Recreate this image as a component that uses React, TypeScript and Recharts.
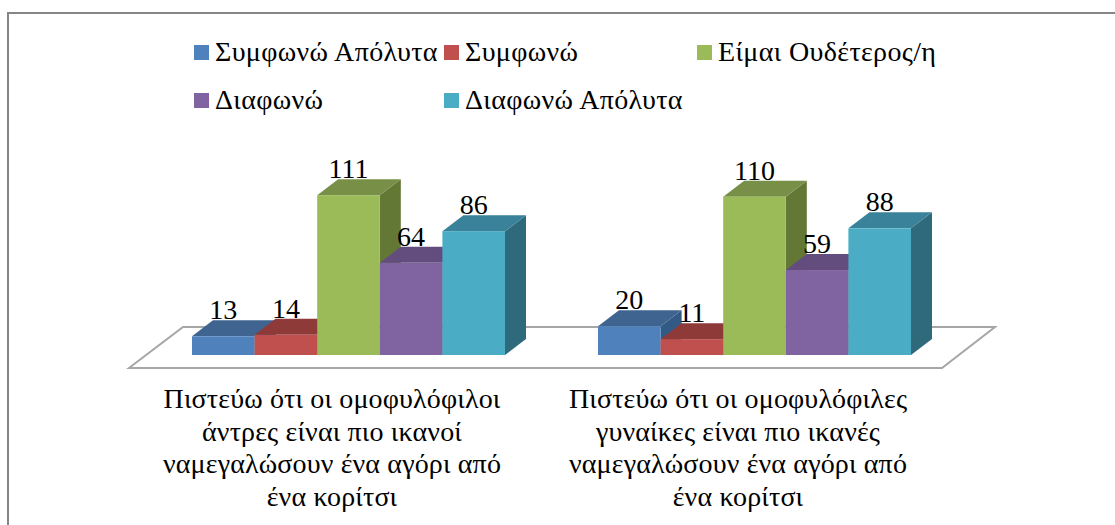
import { BarChart, Bar, XAxis, YAxis, LabelList, Legend, ReferenceArea } from "recharts";

const CATEGORIES = [
  "Πιστεύω ότι οι ομοφυλόφιλοι|άντρες είναι πιο ικανοί|ναμεγαλώσουν ένα αγόρι από|ένα κορίτσι",
  "Πιστεύω ότι οι ομοφυλόφιλες|γυναίκες είναι πιο ικανές|ναμεγαλώσουν ένα αγόρι από|ένα κορίτσι",
];
const SERIES_NAMES = ["Συμφωνώ Απόλυτα", "Συμφωνώ", "Είμαι Ουδέτερος/η", "Διαφωνώ", "Διαφωνώ Απόλυτα"];
const STRONGLY_AGREE = [13, 20];
const AGREE = [14, 11];
const NEUTRAL = [111, 110];
const DISAGREE = [64, 59];
const STRONGLY_DISAGREE = [86, 88];
const SERIES_VALUES = [STRONGLY_AGREE, AGREE, NEUTRAL, DISAGREE, STRONGLY_DISAGREE];
const FRONT = ["#4f81bd", "#c0504d", "#9bbb59", "#8064a2", "#4bacc6"];
const TOP = ["#3f6490", "#8e3a38", "#788f47", "#634d7e", "#39829a"];
const SIDE = ["#335a85", "#7d3331", "#647836", "#54406c", "#2f6a7c"];

const data = CATEGORIES.map((name, i) => {
  const row: Record<string, string | number> = { name };
  SERIES_NAMES.forEach((s, j) => {
    row[s] = SERIES_VALUES[j][i];
  });
  return row;
});

const FONT = "'Liberation Serif', serif";
const DX = 21;
const DY = 16;

const Bar3D = (props: any) => {
  const { x, y, width, height, colorIndex } = props;
  const r = x + width;
  const b = y + height;
  return (
    <g>
      <polygon points={`${r},${y} ${r + DX},${y - DY} ${r + DX},${b - DY} ${r},${b}`} fill={SIDE[colorIndex]} />
      <polygon points={`${x},${y} ${x + DX},${y - DY} ${r + DX},${y - DY} ${r},${y}`} fill={TOP[colorIndex]} />
      <rect x={x} y={y} width={width} height={height} fill={FRONT[colorIndex]} />
    </g>
  );
};

const Floor = (props: any) => {
  const { x, y, width, height } = props;
  const base = y + height;
  const pts = `${x - 16},${base + 13} ${x + 38},${base - 28} ${x + width + 38},${base - 28} ${x + width - 15},${base + 13}`;
  return <polygon points={pts} fill="#fff" stroke="#a6a6a6" strokeWidth={2} />;
};

// labels sit left of the band centre, the 3D floor pushes them over
const CategoryTick = (props: any) => {
  const { x, payload } = props;
  const cx = x - 16;
  return (
    <text x={cx} textAnchor="middle" fontFamily={FONT} fontSize={28} letterSpacing={0.15} fill="#000">
      {String(payload.value).split("|").map((line: string, i: number) => (
        <tspan key={i} x={cx} y={408 + i * 32.5}>{line}</tspan>
      ))}
    </text>
  );
};

const TopLabel = (props: any) => {
  const { x, y, width, value } = props;
  return (
    <text x={x + width / 2} y={y - 17} textAnchor="middle" fontFamily={FONT} fontSize={28} fill="#000">
      {value}
    </text>
  );
};

const LegendBox = () => (
  <div style={{ position: "absolute", left: 194, top: 28, width: 800, display: "grid", gridTemplateColumns: "250px 253px 260px", fontFamily: FONT, fontSize: 28, letterSpacing: 0.35, color: "#000" }}>
    {SERIES_NAMES.map((s, i) => (
      <div key={s} style={{ display: "flex", alignItems: "center", height: 48 }}>
        <span style={{ width: 15, height: 15, background: FRONT[i], marginRight: 6, flexShrink: 0 }} />
        <span style={{ whiteSpace: "nowrap" }}>{s}</span>
      </div>
    ))}
  </div>
);

export default function App() {
  return (
    <div style={{ position: "absolute", left: 0, top: 0, width: 1115, height: 525, background: "#fff", overflow: "hidden" }}>
      <div style={{ position: "absolute", left: 7, top: 12, width: 1200, height: 600, border: "2px solid #868686", boxSizing: "border-box" }} />
      <BarChart
        width={1115}
        height={525}
        data={data}
        barSize={62.6}
        barGap={0}
        margin={{ top: 115, right: 158, bottom: 140, left: 145 }}
        style={{ position: "absolute", left: 0, top: 0 }}
      >
        <XAxis dataKey="name" axisLine={false} tickLine={false} tick={<CategoryTick />} interval={0} height={30} />
        <YAxis hide domain={[0, 166.7]} />
        <ReferenceArea y1={0} y2={20} ifOverflow="visible" shape={<Floor />} />
        <Legend content={<LegendBox />} wrapperStyle={{ left: 0, top: 0, width: 0, height: 0 }} />
        {SERIES_NAMES.map((s, i) => (
          <Bar key={s} dataKey={s} isAnimationActive={false} shape={<Bar3D colorIndex={i} />}>
            <LabelList dataKey={s} content={<TopLabel />} />
          </Bar>
        ))}
      </BarChart>
    </div>
  );
}
